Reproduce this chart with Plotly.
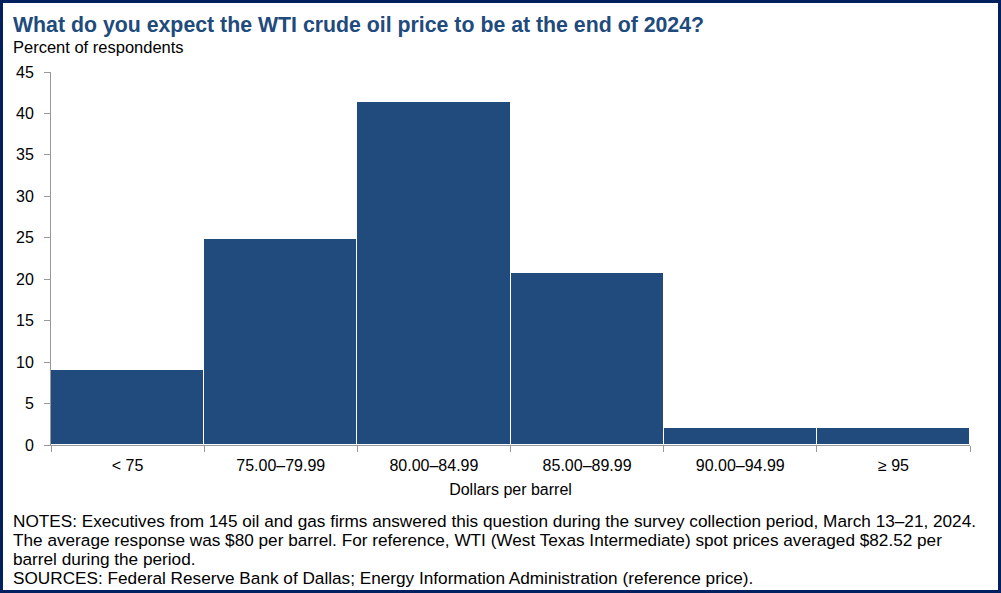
import plotly.graph_objects as go

categories = ["< 75", "75.00–79.99", "80.00–84.99", "85.00–89.99", "90.00–94.99", "≥ 95"]
percent = [9.0, 24.8, 41.4, 20.7, 2.1, 2.1]
y_ticks = [0, 5, 10, 15, 20, 25, 30, 35, 40, 45]

W, H = 1001, 593
L, R, T, B = 51, 31, 72, 148
pw, ph = W - L - R, H - T - B

def px(x):
    return (x - L) / pw

def py(y):
    return (H - B - y) / ph

FONT = "Liberation Sans, Arial, sans-serif"
BAR = "#214A7D"

fig = go.Figure()
fig.add_trace(go.Bar(
    x=categories, y=percent,
    marker=dict(color=BAR, line=dict(color="white", width=1)),
    hoverinfo="x+y",
))

fig.update_layout(
    width=W, height=H,
    margin=dict(l=L, r=R, t=T, b=B),
    paper_bgcolor="white", plot_bgcolor="white",
    bargap=0,
    showlegend=False,
    font=dict(family=FONT, size=16, color="black"),
    xaxis=dict(
        type="category",
        showgrid=False, showline=True, linecolor="#999999", linewidth=1,
        ticks="outside", tickson="boundaries", ticklen=6, tickcolor="#999999",
        tickfont=dict(size=16, family=FONT),
        ticklabelstandoff=6,
        title=dict(text="Dollars per barrel", font=dict(size=16, family=FONT), standoff=10),
    ),
    yaxis=dict(
        range=[0, 45], tickvals=y_ticks,
        showgrid=False, showline=True, linecolor="#999999", linewidth=1,
        ticks="outside", ticklen=6, tickcolor="#999999",
        tickfont=dict(size=16, family=FONT),
        ticklabelstandoff=7,
        zeroline=False,
    ),
)

NOTE_SIZE = 17.2
annotations = [
    dict(text="<b>What do you expect the WTI crude oil price to be at the end of 2024?</b>",
         x=px(11), y=py(25), xanchor="left", yanchor="middle",
         font=dict(size=21.3, color="#214A7D", family=FONT)),
    dict(text="Percent of respondents", x=px(11), y=py(47), xanchor="left", yanchor="middle",
         font=dict(size=16.5, family=FONT)),
    dict(text="NOTES: Executives from 145 oil and gas firms answered this question during the survey collection period, March 13–21, 2024.",
         x=px(11), y=py(521), xanchor="left", yanchor="middle", font=dict(size=NOTE_SIZE, family=FONT)),
    dict(text="The average response was $80 per barrel. For reference, WTI (West Texas Intermediate) spot prices averaged $82.52 per",
         x=px(11), y=py(540), xanchor="left", yanchor="middle", font=dict(size=NOTE_SIZE, family=FONT)),
    dict(text="barrel during the period.",
         x=px(11), y=py(559), xanchor="left", yanchor="middle", font=dict(size=NOTE_SIZE, family=FONT)),
    dict(text="SOURCES: Federal Reserve Bank of Dallas; Energy Information Administration (reference price).",
         x=px(11), y=py(578), xanchor="left", yanchor="middle", font=dict(size=NOTE_SIZE, family=FONT)),
]
for a in annotations:
    a.update(xref="paper", yref="paper", showarrow=False)
fig.update_layout(annotations=annotations)

fig.add_shape(type="rect", xref="paper", yref="paper",
              x0=px(1.5), x1=px(W - 1.5), y0=py(H - 1.5), y1=py(1.5),
              line=dict(color="#002060", width=3), fillcolor="rgba(0,0,0,0)", layer="above")

fig.write_html("out.html", config={"displayModeBar": False},
               post_script="document.body.style.margin='0';document.body.style.overflow='hidden';")
